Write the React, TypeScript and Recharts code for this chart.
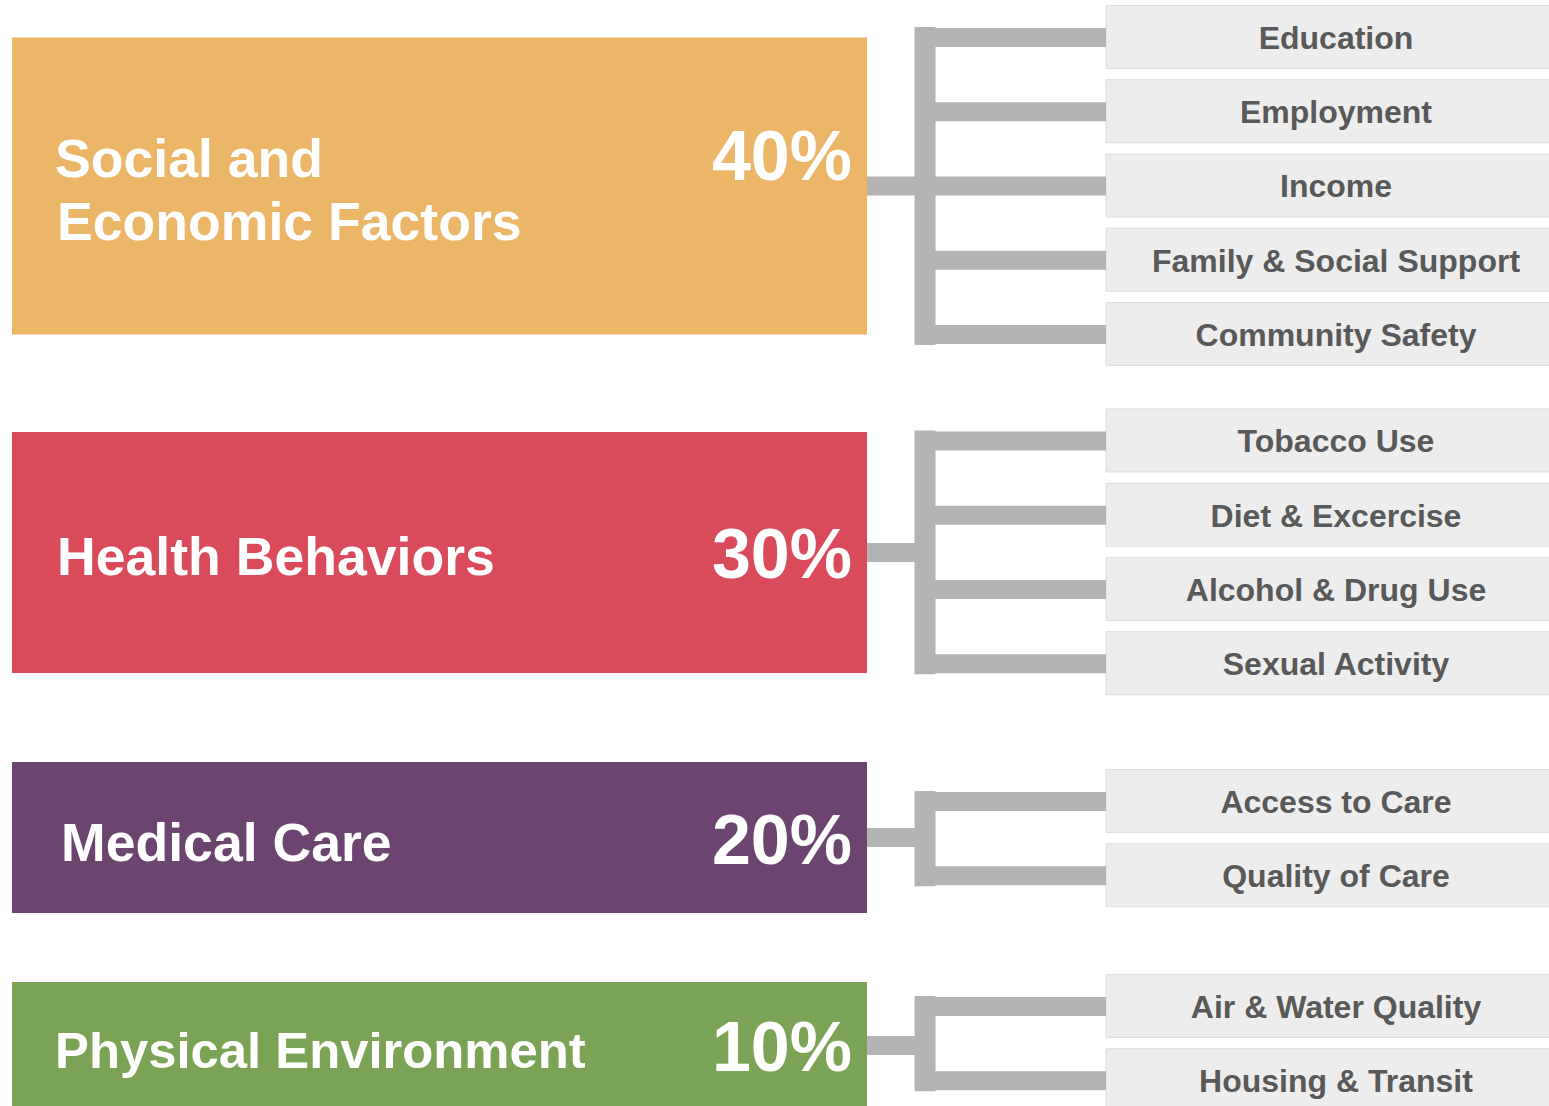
import React from 'react';
import { ComposedChart, XAxis, YAxis, ReferenceArea, ReferenceLine, Scatter } from 'recharts';

// ---------- data ----------
const groupLabels: string[][] = [
  ['Social and', 'Economic Factors'],
  ['Health Behaviors'],
  ['Medical Care'],
  ['Physical Environment'],
];
const groupShares = [40, 30, 20, 10];
const groupColors = ['#EBB668', '#D94B5B', '#6B4470', '#7BA355'];
const groupFactors: string[][] = [
  ['Education', 'Employment', 'Income', 'Family & Social Support', 'Community Safety'],
  ['Tobacco Use', 'Diet & Excercise', 'Alcohol & Drug Use', 'Sexual Activity'],
  ['Access to Care', 'Quality of Care'],
  ['Air & Water Quality', 'Housing & Transit'],
];

// ---------- layout & style (row units vertically, layout columns horizontally) ----------
const W = 1549;
const H = 1106;
const Y_DOMAIN: [number, number] = [-0.505, 14.391];
const X_DOMAIN: [number, number] = [0, W];
const GROUP_GAPS = [1.434, 1.856, 1.76];
const BOX_PAD = [
  [0, 0],
  [0.121, 0.125],
  [0.532, 0.502],
  [0.33, 0.38],
];
const SUB_PAD = [0.431, 0.418];
const COL = {
  boxLeft: 12,
  boxRight: 867,
  trunk: 925,
  subLeft: 1106,
  subRight: 1565,
  subText: 1336,
  label: 55,
  pct: 852,
};
const LABEL_FONT_SIZES = [53.6, 53.6, 53.6, 50.8];
const LABEL_LINE_DX = [[0, 2], [2], [6], [0]];
const CONNECTOR = '#B3B3B3';
const FONT = '"Liberation Sans", Arial, Helvetica, sans-serif';

const groupLayout = (() => {
  let start = 0;
  return groupFactors.map((items, g) => {
    const first = start;
    const last = start + items.length - 1;
    if (g < GROUP_GAPS.length) start = last + GROUP_GAPS[g];
    const top = first - BOX_PAD[g][0];
    const bottom = last + BOX_PAD[g][1];
    return { first, last, top, bottom, mid: (top + bottom) / 2 };
  });
})();

const factorPoints = groupFactors.flatMap((items, g) =>
  items.map((name, k) => ({ x: COL.subText, y: groupLayout[g].first + k, name }))
);
const labelPoints = groupLabels.map((lines, g) => ({ x: COL.label, y: groupLayout[g].mid, lines, g }));
const sharePoints = groupShares.map((v, g) => ({
  x: COL.pct,
  y: groupLayout[g].mid,
  v,
  n: groupLabels[g].length,
}));

const FactorText = (props: any) => {
  const { cx, cy, payload } = props;
  return (
    <text
      x={cx}
      y={cy + 11.5}
      textAnchor="middle"
      fontFamily={FONT}
      fontWeight="bold"
      fontSize={32}
      fill="#595959"
    >
      {payload.name}
    </text>
  );
};

const GroupText = (props: any) => {
  const { cx, cy, payload } = props;
  const n = payload.lines.length;
  const firstBase = cy + 23 - (n - 1) * 31.5;
  return (
    <g>
      {payload.lines.map((line: string, i: number) => (
        <text
          key={i}
          x={cx + LABEL_LINE_DX[payload.g][i]}
          y={firstBase + i * 63}
          fontFamily={FONT}
          fontWeight="bold"
          fontSize={LABEL_FONT_SIZES[payload.g]}
          fill="#FFFFFF"
        >
          {line}
        </text>
      ))}
    </g>
  );
};

const ShareText = (props: any) => {
  const { cx, cy, payload } = props;
  const firstBase = cy + 23 - (payload.n - 1) * 31.5;
  return (
    <text
      x={cx}
      y={firstBase + 3}
      textAnchor="end"
      fontFamily={FONT}
      fontWeight="bold"
      fontSize={70}
      fill="#FFFFFF"
    >
      {payload.v}%
    </text>
  );
};

export default function App() {
  return (
    <div style={{ position: 'absolute', left: 0, top: 0, width: W, height: H, background: '#fff' }}>
      <ComposedChart width={W} height={H} margin={{ top: 0, right: 0, bottom: 0, left: 0 }}>
        <XAxis type="number" dataKey="x" domain={X_DOMAIN} allowDataOverflow hide />
        <YAxis type="number" dataKey="y" domain={Y_DOMAIN} allowDataOverflow reversed hide />

        {groupLayout.map((gl, g) => (
          <ReferenceArea
            key={`box-${g}`}
            x1={COL.boxLeft}
            x2={COL.boxRight}
            y1={gl.top}
            y2={gl.bottom}
            fill={groupColors[g]}
            fillOpacity={1}
            stroke="none"
            ifOverflow="visible"
          />
        ))}

        {factorPoints.map((p, i) => (
          <ReferenceArea
            key={`sub-${i}`}
            x1={COL.subLeft}
            x2={COL.subRight}
            y1={p.y - SUB_PAD[0]}
            y2={p.y + SUB_PAD[1]}
            fill="#EDEDED"
            fillOpacity={1}
            stroke="#DEDEDE"
            strokeWidth={1}
            ifOverflow="visible"
          />
        ))}

        {groupLayout.map((gl, g) => (
          <ReferenceLine
            key={`stub-${g}`}
            segment={[
              { x: COL.boxRight, y: gl.mid },
              { x: COL.trunk, y: gl.mid },
            ]}
            stroke={CONNECTOR}
            strokeWidth={19}
            ifOverflow="visible"
          />
        ))}

        {groupLayout.map((gl, g) => (
          <ReferenceLine
            key={`trunk-${g}`}
            segment={[
              { x: COL.trunk, y: gl.first },
              { x: COL.trunk, y: gl.last },
            ]}
            stroke={CONNECTOR}
            strokeWidth={21}
            strokeLinecap="square"
            ifOverflow="visible"
          />
        ))}

        {factorPoints.map((p, i) => (
          <ReferenceLine
            key={`branch-${i}`}
            segment={[
              { x: COL.trunk, y: p.y },
              { x: COL.subLeft, y: p.y },
            ]}
            stroke={CONNECTOR}
            strokeWidth={19}
            ifOverflow="visible"
          />
        ))}

        <Scatter data={factorPoints} shape={FactorText} isAnimationActive={false} />
        <Scatter data={labelPoints} shape={GroupText} isAnimationActive={false} />
        <Scatter data={sharePoints} shape={ShareText} isAnimationActive={false} />
      </ComposedChart>
    </div>
  );
}
